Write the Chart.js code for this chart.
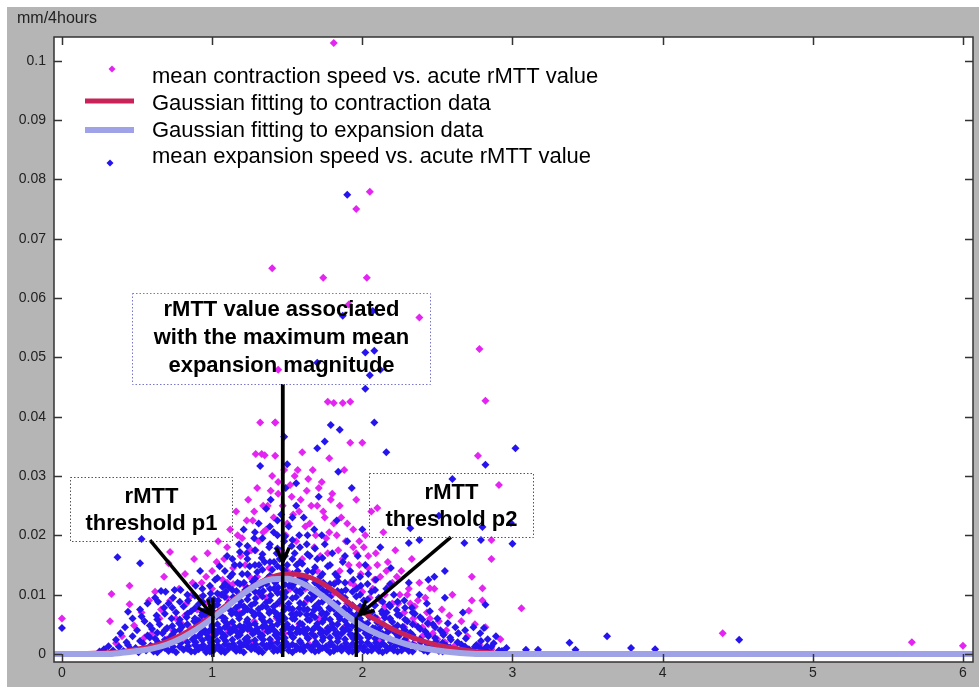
<!DOCTYPE html>
<html>
<head>
<meta charset="utf-8">
<script src="https://cdn.jsdelivr.net/npm/chart.js@4.4.1/dist/chart.umd.min.js"></script>
<style>
html,body{margin:0;padding:0;background:#fff;}
#wrap{position:relative;width:979px;height:687px;}
canvas{display:block;}
</style>
</head>
<body>
<div id="wrap"><canvas id="c" width="979" height="687"></canvas></div>
<script>
// ---------------- DATA ----------------
const yUnitLabel = 'mm/4hours';
const xTickValues = [0, 1, 2, 3, 4, 5, 6];
const xTickLabels = ['0', '1', '2', '3', '4', '5', '6'];
const yTickValues = [0, 0.01, 0.02, 0.03, 0.04, 0.05, 0.06, 0.07, 0.08, 0.09, 0.1];
const yTickLabels = ['0', '0.01', '0.02', '0.03', '0.04', '0.05', '0.06', '0.07', '0.08', '0.09', '0.1'];

const legendLabels = [
  'mean contraction speed vs. acute rMTT value',
  'Gaussian fitting to contraction data',
  'Gaussian fitting to expansion data',
  'mean expansion speed vs. acute rMTT value'
];

// mean contraction speed vs. acute rMTT value (magenta)
const contractionPoints = [
  [0.00,0.0060],[0.33,0.0101],[0.45,0.0115],[0.45,0.0084],[0.32,0.0055],[0.71,0.0153],[0.72,0.0172],
  [0.40,0.0030],[0.36,0.0018],[0.48,0.0048],[0.53,0.0070],[0.58,0.0090],[0.62,0.0105],[0.55,0.0028],
  [0.60,0.0012],[0.65,0.0060],[0.68,0.0130],[0.74,0.0040],[0.78,0.0110],[0.82,0.0135],[0.80,0.0022],
  [0.86,0.0098],[0.88,0.0160],[0.90,0.0057],[0.93,0.0120],[0.97,0.0170],[0.95,0.0010],[1.00,0.0140],
  [1.02,0.0088],[1.04,0.0190],[1.08,0.0160],[1.10,0.0035],[1.12,0.0210],[1.14,0.0118],[1.16,0.0240],
  [1.18,0.0070],[1.20,0.0195],[1.22,0.0150],[1.24,0.0260],[1.25,0.0040],[1.27,0.0225],[1.29,0.0175],
  [1.30,0.0280],[1.32,0.0100],[1.34,0.0205],[1.33,0.0337],[1.35,0.0335],[1.37,0.0250],[1.38,0.0145],
  [1.40,0.0300],[1.42,0.0334],[1.42,0.0390],[1.32,0.0390],[1.43,0.0060],[1.44,0.0270],[1.46,0.0175],
  [1.48,0.0310],[1.50,0.0220],[1.52,0.0110],[1.53,0.0265],[1.55,0.0300],[1.56,0.0190],[1.58,0.0240],
  [1.60,0.0340],[1.62,0.0130],[1.63,0.0275],[1.65,0.0220],[1.67,0.0310],[1.68,0.0180],[1.70,0.0250],
  [1.72,0.0100],[1.73,0.0290],[1.75,0.0230],[1.77,0.0170],[1.78,0.0330],[1.80,0.0270],[1.82,0.0120],
  [1.83,0.0200],[1.85,0.0250],[1.87,0.0160],[1.88,0.0310],[1.90,0.0220],[1.92,0.0120],[1.94,0.0180],
  [1.96,0.0260],[1.98,0.0150],[2.00,0.0105],[2.02,0.0200],[2.04,0.0165],[2.06,0.0240],[2.08,0.0125],
  [2.10,0.0150],[2.12,0.0090],[2.14,0.0205],[2.16,0.0140],[2.18,0.0060],[2.20,0.0120],[2.22,0.0175],
  [2.24,0.0085],[2.26,0.0140],[2.28,0.0045],[2.30,0.0100],[2.33,0.0160],[2.35,0.0080],[2.38,0.0120],
  [2.40,0.0030],[2.42,0.0095],[2.45,0.0060],[2.48,0.0110],[2.50,0.0025],[2.53,0.0075],[2.56,0.0040],
  [2.60,0.0100],[2.62,0.0015],[2.66,0.0055],[2.70,0.0030],[2.73,0.0090],[2.78,0.0015],[2.82,0.0045],
  [2.86,0.0008],[2.92,0.0025],
  [0.70,0.0025],[0.85,0.0045],[0.98,0.0035],[1.05,0.0065],[1.13,0.0050],[1.21,0.0080],[1.28,0.0055],
  [1.36,0.0095],[1.45,0.0085],[1.54,0.0070],[1.63,0.0090],[1.71,0.0060],[1.79,0.0085],[1.88,0.0045],
  [1.97,0.0065],[2.05,0.0035],[2.14,0.0050],[2.23,0.0025],[1.15,0.0010],[1.40,0.0020],[1.65,0.0015],
  [1.90,0.0010],[2.35,0.0015],[0.90,0.0075],[1.10,0.0095],[1.30,0.0130],[1.50,0.0140],[1.70,0.0140],
  [1.90,0.0085],[2.10,0.0060],
  [0.60,0.0035],[0.66,0.0075],[0.72,0.0090],[0.76,0.0060],[0.83,0.0085],[0.87,0.0120],[0.92,0.0095],
  [0.96,0.0130],[1.00,0.0110],[1.03,0.0155],[1.07,0.0125],[1.10,0.0180],[1.14,0.0145],[1.17,0.0200],
  [1.19,0.0165],[1.23,0.0225],[1.26,0.0175],[1.28,0.0240],[1.31,0.0190],[1.34,0.0250],[1.36,0.0210],
  [1.39,0.0275],[1.41,0.0230],[1.44,0.0290],[1.47,0.0250],[1.49,0.0200],[1.52,0.0285],[1.54,0.0235],
  [1.57,0.0310],[1.59,0.0260],[1.62,0.0215],[1.64,0.0295],[1.66,0.0250],[1.69,0.0200],[1.71,0.0280],
  [1.74,0.0240],[1.76,0.0195],[1.79,0.0260],[1.81,0.0220],[1.84,0.0175],[1.86,0.0230],[1.89,0.0190],
  [1.91,0.0150],[1.94,0.0210],[1.96,0.0170],[1.99,0.0135],[2.01,0.0180],[2.04,0.0145],[2.07,0.0110],
  [2.09,0.0170],[2.12,0.0130],[2.15,0.0100],[2.17,0.0155],[2.20,0.0085],[2.23,0.0130],[2.25,0.0100],
  [2.28,0.0070],[2.31,0.0110],[2.34,0.0060],[2.37,0.0090],[2.40,0.0045],[2.43,0.0070],[2.47,0.0035],
  [2.51,0.0055],[2.55,0.0020],[2.58,0.0065],[2.64,0.0035],[2.68,0.0012],[2.75,0.0050],
  [0.80,0.0050],[0.95,0.0060],[1.08,0.0030],[1.18,0.0045],[1.26,0.0020],[1.35,0.0040],[1.48,0.0035],
  [1.58,0.0050],[1.68,0.0030],[1.76,0.0040],[1.84,0.0065],[1.93,0.0030],[2.02,0.0050],[2.11,0.0025],
  [2.20,0.0040],[2.30,0.0020],[1.22,0.0115],[1.44,0.0105],[1.62,0.0110],[1.80,0.0100],[1.05,0.0100],
  [1.60,0.0160],[1.72,0.0165],[1.85,0.0140],[1.95,0.0115],[2.05,0.0095],[2.15,0.0080],[2.25,0.0065],
  [2.35,0.0050],[1.78,0.0205],[1.98,0.0190],[2.18,0.0115],[2.32,0.0085],[2.44,0.0050],[2.55,0.0035],
  [1.25,0.0130],[1.10,0.0120],[0.95,0.0085],[0.82,0.0065],
  [1.81,0.1030],[2.05,0.0779],[1.96,0.0750],[1.40,0.0650],[1.74,0.0634],[2.03,0.0634],[2.38,0.0567],
  [1.91,0.0589],[2.78,0.0514],[1.44,0.0479],[2.82,0.0427],[1.77,0.0425],[1.81,0.0423],[1.87,0.0423],
  [1.92,0.0425],[1.92,0.0356],[2.00,0.0356],[1.42,0.0390],[1.29,0.0337],[2.77,0.0334],[2.91,0.0285],
  [2.10,0.0246],[2.86,0.0192],[2.86,0.0160],[2.73,0.0130],[2.80,0.0111],[2.80,0.0090],[3.06,0.0077],
  [2.71,0.0073],[2.45,0.0111],[4.40,0.0035],[5.66,0.0020],[6.00,0.0014]
];

// mean expansion speed vs. acute rMTT value (blue)
const expansionPoints = [
  [0.41,0.0005],[0.38,0.0012],[0.43,0.0020],
  [0.46,0.0008],[0.47,0.0030],[0.44,0.0015],
  [0.51,0.0003],[0.49,0.0010],[0.52,0.0022],[0.50,0.0040],
  [0.56,0.0006],[0.54,0.0018],[0.57,0.0031],[0.55,0.0055],
  [0.61,0.0004],[0.59,0.0014],[0.62,0.0026],[0.60,0.0042],[0.63,0.0065],
  [0.66,0.0009],[0.64,0.0020],[0.67,0.0035],[0.65,0.0050],[0.68,0.0078],
  [0.71,0.0005],[0.69,0.0016],[0.72,0.0028],[0.70,0.0044],[0.73,0.0060],[0.71,0.0085],[0.69,0.0105],
  [0.76,0.0003],[0.74,0.0012],[0.77,0.0023],[0.75,0.0038],[0.78,0.0052],[0.76,0.0070],[0.74,0.0095],
  [0.81,0.0007],[0.79,0.0018],[0.82,0.0030],[0.80,0.0046],[0.83,0.0062],[0.81,0.0080],[0.79,0.0108],
  [0.86,0.0004],[0.84,0.0013],[0.87,0.0025],[0.85,0.0036],[0.88,0.0055],[0.86,0.0072],[0.84,0.0090],
  [0.91,0.0008],[0.89,0.0020],[0.92,0.0033],[0.90,0.0048],[0.93,0.0065],[0.91,0.0084],[0.89,0.0115],[0.92,0.0140],
  [0.96,0.0003],[0.94,0.0015],[0.97,0.0027],[0.95,0.0040],[0.98,0.0058],[0.96,0.0075],[0.94,0.0098],
  [1.01,0.0006],[0.99,0.0019],[1.02,0.0032],[1.00,0.0047],[1.03,0.0063],[1.01,0.0080],[0.99,0.0102],[1.02,0.0125],
  [1.06,0.0004],[1.04,0.0014],[1.07,0.0028],[1.05,0.0042],[1.08,0.0056],[1.06,0.0073],[1.04,0.0090],[1.07,0.0113],[1.05,0.0148],
  [1.11,0.0009],[1.09,0.0022],[1.12,0.0036],[1.10,0.0051],[1.13,0.0068],[1.11,0.0086],[1.09,0.0105],[1.12,0.0130],[1.10,0.0165],
  [1.16,0.0005],[1.14,0.0017],[1.17,0.0030],[1.15,0.0045],[1.18,0.0060],[1.16,0.0078],[1.14,0.0096],[1.17,0.0120],[1.15,0.0150],[1.18,0.0185],
  [1.21,0.0003],[1.19,0.0012],[1.22,0.0025],[1.20,0.0039],[1.23,0.0054],[1.21,0.0071],[1.19,0.0089],[1.22,0.0108],[1.20,0.0135],[1.23,0.0170],[1.21,0.0210],
  [1.26,0.0008],[1.24,0.0021],[1.27,0.0034],[1.25,0.0049],[1.28,0.0065],[1.26,0.0082],[1.24,0.0100],[1.27,0.0122],[1.25,0.0148],[1.28,0.0195],
  [1.31,0.0004],[1.29,0.0016],[1.32,0.0029],[1.30,0.0043],[1.33,0.0059],[1.31,0.0076],[1.29,0.0094],[1.32,0.0115],[1.30,0.0138],[1.33,0.0162],[1.31,0.0220],
  [1.36,0.0010],[1.34,0.0024],[1.37,0.0038],[1.35,0.0053],[1.38,0.0069],[1.36,0.0087],[1.34,0.0106],[1.37,0.0128],[1.35,0.0155],[1.38,0.0180],[1.36,0.0245],
  [1.41,0.0005],[1.39,0.0018],[1.42,0.0032],[1.40,0.0047],[1.43,0.0063],[1.41,0.0080],[1.39,0.0099],[1.42,0.0120],[1.40,0.0142],[1.43,0.0170],[1.41,0.0205],[1.39,0.0260],
  [1.46,0.0012],[1.44,0.0026],[1.47,0.0041],[1.45,0.0057],[1.48,0.0074],[1.46,0.0092],[1.44,0.0112],[1.47,0.0134],[1.45,0.0160],[1.48,0.0190],[1.46,0.0235],
  [1.51,0.0006],[1.49,0.0020],[1.52,0.0035],[1.50,0.0050],[1.53,0.0067],[1.51,0.0085],[1.49,0.0104],[1.52,0.0126],[1.50,0.0150],[1.53,0.0182],[1.51,0.0215],[1.49,0.0280],
  [1.56,0.0013],[1.54,0.0028],[1.57,0.0043],[1.55,0.0059],[1.58,0.0077],[1.56,0.0096],[1.54,0.0117],[1.57,0.0140],[1.55,0.0170],[1.58,0.0200],[1.56,0.0250],
  [1.61,0.0005],[1.59,0.0019],[1.62,0.0034],[1.60,0.0050],[1.63,0.0066],[1.61,0.0084],[1.59,0.0103],[1.62,0.0125],[1.60,0.0152],[1.63,0.0185],[1.61,0.0230],
  [1.66,0.0011],[1.64,0.0026],[1.67,0.0041],[1.65,0.0057],[1.68,0.0074],[1.66,0.0092],[1.64,0.0113],[1.67,0.0138],[1.65,0.0165],[1.68,0.0210],
  [1.71,0.0006],[1.69,0.0020],[1.72,0.0035],[1.70,0.0051],[1.73,0.0068],[1.71,0.0086],[1.69,0.0106],[1.72,0.0130],[1.70,0.0160],[1.73,0.0200],[1.71,0.0265],
  [1.76,0.0013],[1.74,0.0028],[1.77,0.0044],[1.75,0.0060],[1.78,0.0078],[1.76,0.0098],[1.74,0.0120],[1.77,0.0148],[1.75,0.0185],
  [1.81,0.0005],[1.79,0.0019],[1.82,0.0034],[1.80,0.0050],[1.83,0.0067],[1.81,0.0086],[1.79,0.0108],[1.82,0.0135],[1.80,0.0170],[1.83,0.0225],
  [1.86,0.0012],[1.84,0.0027],[1.87,0.0042],[1.85,0.0059],[1.88,0.0077],[1.86,0.0098],[1.84,0.0122],[1.87,0.0155],
  [1.91,0.0004],[1.89,0.0018],[1.92,0.0033],[1.90,0.0049],[1.93,0.0066],[1.91,0.0085],[1.89,0.0108],[1.92,0.0140],[1.90,0.0190],
  [1.96,0.0011],[1.94,0.0026],[1.97,0.0041],[1.95,0.0058],[1.98,0.0076],[1.96,0.0097],[1.94,0.0125],[1.97,0.0165],
  [2.01,0.0006],[1.99,0.0020],[2.02,0.0035],[2.00,0.0052],[2.03,0.0070],[2.01,0.0090],[1.99,0.0115],[2.02,0.0150],[2.00,0.0210],
  [2.06,0.0013],[2.04,0.0028],[2.07,0.0044],[2.05,0.0062],[2.08,0.0082],[2.06,0.0105],[2.04,0.0135],
  [2.11,0.0005],[2.09,0.0019],[2.12,0.0035],[2.10,0.0053],[2.13,0.0072],[2.11,0.0095],[2.09,0.0125],[2.12,0.0180],
  [2.16,0.0012],[2.14,0.0027],[2.17,0.0043],[2.15,0.0061],[2.18,0.0083],[2.16,0.0110],
  [2.21,0.0006],[2.19,0.0020],[2.22,0.0036],[2.20,0.0054],[2.23,0.0074],[2.21,0.0100],[2.19,0.0145],
  [2.26,0.0013],[2.24,0.0029],[2.27,0.0046],[2.25,0.0065],[2.28,0.0090],
  [2.31,0.0005],[2.29,0.0019],[2.32,0.0036],[2.30,0.0055],[2.33,0.0078],[2.31,0.0120],
  [2.36,0.0012],[2.34,0.0028],[2.37,0.0046],[2.35,0.0068],[2.38,0.0100],
  [2.41,0.0006],[2.39,0.0020],[2.42,0.0038],[2.40,0.0058],[2.43,0.0085],
  [2.46,0.0013],[2.44,0.0030],[2.47,0.0050],[2.45,0.0072],[2.48,0.0130],
  [2.51,0.0005],[2.49,0.0021],[2.52,0.0040],[2.50,0.0060],
  [2.56,0.0014],[2.54,0.0032],[2.57,0.0052],[2.55,0.0095],
  [2.61,0.0007],[2.59,0.0024],[2.62,0.0045],
  [2.66,0.0016],[2.64,0.0035],[2.67,0.0070],
  [2.71,0.0008],[2.69,0.0026],
  [2.76,0.0015],[2.74,0.0045],
  [2.81,0.0007],[2.79,0.0022],
  [2.86,0.0012],
  [2.91,0.0006],[2.89,0.0030],
  [2.96,0.0010],
  [0.585,0.0010],[0.585,0.0028],[0.585,0.0048],
  [0.635,0.0003],[0.635,0.0016],[0.635,0.0036],[0.635,0.0058],
  [0.685,0.0010],[0.685,0.0024],[0.685,0.0040],[0.685,0.0068],
  [0.735,0.0007],[0.735,0.0019],[0.735,0.0033],[0.735,0.0047],[0.735,0.0078],
  [0.785,0.0012],[0.785,0.0026],[0.785,0.0041],[0.785,0.0058],[0.785,0.0088],
  [0.835,0.0009],[0.835,0.0020],[0.835,0.0034],[0.835,0.0050],[0.835,0.0068],[0.835,0.0100],
  [0.885,0.0004],[0.885,0.0015],[0.885,0.0028],[0.885,0.0042],[0.885,0.0060],[0.885,0.0077],[0.885,0.0098],
  [0.935,0.0010],[0.935,0.0023],[0.935,0.0037],[0.935,0.0052],[0.935,0.0070],[0.935,0.0088],[0.935,0.0110],
  [0.985,0.0004],[0.985,0.0013],[0.985,0.0026],[0.985,0.0040],[0.985,0.0055],[0.985,0.0072],[0.985,0.0092],[0.985,0.0115],
  [1.035,0.0010],[1.035,0.0022],[1.035,0.0037],[1.035,0.0050],[1.035,0.0066],[1.035,0.0083],[1.035,0.0102],[1.035,0.0128],
  [1.085,0.0003],[1.085,0.0016],[1.085,0.0030],[1.085,0.0045],[1.085,0.0060],[1.085,0.0077],[1.085,0.0096],[1.085,0.0118],[1.085,0.0140],
  [1.135,0.0011],[1.135,0.0024],[1.135,0.0039],[1.135,0.0054],[1.135,0.0071],[1.135,0.0088],[1.135,0.0108],[1.135,0.0135],[1.135,0.0160],
  [1.185,0.0006],[1.185,0.0019],[1.185,0.0032],[1.185,0.0047],[1.185,0.0066],[1.185,0.0082],[1.185,0.0099],[1.185,0.0118],[1.185,0.0150],[1.185,0.0172],
  [1.235,0.0013],[1.235,0.0028],[1.235,0.0042],[1.235,0.0058],[1.235,0.0075],[1.235,0.0092],[1.235,0.0111],[1.235,0.0135],[1.235,0.0160],[1.235,0.0182],
  [1.285,0.0009],[1.285,0.0023],[1.285,0.0037],[1.285,0.0051],[1.285,0.0068],[1.285,0.0086],[1.285,0.0105],[1.285,0.0127],[1.285,0.0150],[1.285,0.0175],[1.285,0.0205],
  [1.335,0.0003],[1.335,0.0017],[1.335,0.0031],[1.335,0.0046],[1.335,0.0062],[1.335,0.0080],[1.335,0.0097],[1.335,0.0118],[1.335,0.0142],[1.335,0.0168],[1.335,0.0195],
  [1.385,0.0012],[1.385,0.0025],[1.385,0.0040],[1.385,0.0055],[1.385,0.0072],[1.385,0.0090],[1.385,0.0110],[1.385,0.0132],[1.385,0.0155],[1.385,0.0185],[1.385,0.0215],
  [1.435,0.0006],[1.435,0.0019],[1.435,0.0034],[1.435,0.0050],[1.435,0.0067],[1.435,0.0085],[1.435,0.0103],[1.435,0.0125],[1.435,0.0148],[1.435,0.0178],[1.435,0.0200],[1.435,0.0225],
  [1.485,0.0013],[1.485,0.0027],[1.485,0.0043],[1.485,0.0060],[1.485,0.0078],[1.485,0.0096],[1.485,0.0117],[1.485,0.0140],[1.485,0.0165],[1.485,0.0198],
  [1.535,0.0003],[1.535,0.0016],[1.535,0.0029],[1.535,0.0044],[1.535,0.0060],[1.535,0.0076],[1.535,0.0094],[1.535,0.0113],[1.535,0.0135],[1.535,0.0160],[1.535,0.0192],[1.535,0.0230],
  [1.585,0.0008],[1.585,0.0022],[1.585,0.0037],[1.585,0.0052],[1.585,0.0068],[1.585,0.0086],[1.585,0.0106],[1.585,0.0128],[1.585,0.0155],[1.585,0.0180],
  [1.635,0.0014],[1.635,0.0027],[1.635,0.0042],[1.635,0.0058],[1.635,0.0075],[1.635,0.0094],[1.635,0.0115],[1.635,0.0140],[1.635,0.0168],[1.635,0.0200],
  [1.685,0.0004],[1.685,0.0016],[1.685,0.0030],[1.685,0.0045],[1.685,0.0062],[1.685,0.0080],[1.685,0.0098],[1.685,0.0120],[1.685,0.0146],[1.685,0.0178],
  [1.735,0.0010],[1.735,0.0023],[1.735,0.0038],[1.735,0.0054],[1.735,0.0070],[1.735,0.0088],[1.735,0.0108],[1.735,0.0135],[1.735,0.0162],
  [1.785,0.0003],[1.785,0.0015],[1.785,0.0028],[1.785,0.0042],[1.785,0.0058],[1.785,0.0076],[1.785,0.0096],[1.785,0.0118],[1.785,0.0150],
  [1.835,0.0009],[1.835,0.0021],[1.835,0.0035],[1.835,0.0050],[1.835,0.0066],[1.835,0.0085],[1.835,0.0106],[1.835,0.0130],
  [1.885,0.0011],[1.885,0.0025],[1.885,0.0040],[1.885,0.0056],[1.885,0.0074],[1.885,0.0095],[1.885,0.0120],[1.885,0.0165],
  [1.935,0.0004],[1.935,0.0017],[1.935,0.0031],[1.935,0.0047],[1.935,0.0064],[1.935,0.0082],[1.935,0.0105],
  [1.985,0.0012],[1.985,0.0027],[1.985,0.0043],[1.985,0.0060],[1.985,0.0080],[1.985,0.0100],[1.985,0.0130],
  [2.035,0.0005],[2.035,0.0019],[2.035,0.0035],[2.035,0.0052],[2.035,0.0072],[2.035,0.0092],[2.035,0.0118],
  [2.085,0.0011],[2.085,0.0026],[2.085,0.0043],[2.085,0.0062],[2.085,0.0082],[2.085,0.0108],
  [2.135,0.0003],[2.135,0.0018],[2.135,0.0034],[2.135,0.0050],[2.135,0.0068],[2.135,0.0088],
  [2.185,0.0010],[2.185,0.0025],[2.185,0.0041],[2.185,0.0060],[2.185,0.0080],[2.185,0.0118],
  [2.235,0.0004],[2.235,0.0017],[2.235,0.0032],[2.235,0.0048],[2.235,0.0066],[2.235,0.0088],
  [2.285,0.0010],[2.285,0.0025],[2.285,0.0040],[2.285,0.0058],[2.285,0.0078],
  [2.335,0.0004],[2.335,0.0016],[2.335,0.0032],[2.335,0.0050],[2.335,0.0070],
  [2.385,0.0010],[2.385,0.0025],[2.385,0.0042],[2.385,0.0062],
  [2.435,0.0004],[2.435,0.0016],[2.435,0.0033],[2.435,0.0052],
  [2.485,0.0010],[2.485,0.0027],[2.485,0.0045],
  [2.535,0.0004],[2.535,0.0019],[2.535,0.0036],
  [2.585,0.0011],[2.585,0.0028],
  [2.635,0.0005],[2.635,0.0020],
  [2.685,0.0012],[2.685,0.0040],
  [2.735,0.0006],
  [2.785,0.0010],[2.785,0.0035],
  [2.835,0.0004],[2.835,0.0025],
  [2.875,0.0018],
  [0.912,0.0011],[0.912,0.0030],[0.912,0.0056],
  [0.962,0.0008],[0.962,0.0034],[0.962,0.0064],
  [1.012,0.0012],[1.012,0.0040],[1.012,0.0070],[1.012,0.0092],
  [1.062,0.0009],[1.062,0.0036],[1.062,0.0064],[1.062,0.0100],
  [1.112,0.0014],[1.112,0.0043],[1.112,0.0076],[1.112,0.0112],
  [1.162,0.0010],[1.162,0.0038],[1.162,0.0068],[1.162,0.0106],
  [1.212,0.0016],[1.212,0.0046],[1.212,0.0080],[1.212,0.0120],
  [1.262,0.0012],[1.262,0.0040],[1.262,0.0072],[1.262,0.0112],
  [1.312,0.0009],[1.312,0.0036],[1.312,0.0068],[1.312,0.0104],[1.312,0.0150],
  [1.362,0.0014],[1.362,0.0045],[1.362,0.0079],[1.362,0.0118],
  [1.412,0.0011],[1.412,0.0040],[1.412,0.0072],[1.412,0.0110],[1.412,0.0155],
  [1.462,0.0006],[1.462,0.0034],[1.462,0.0066],[1.462,0.0102],[1.462,0.0145],
  [1.512,0.0013],[1.512,0.0043],[1.512,0.0077],[1.512,0.0115],
  [1.562,0.0008],[1.562,0.0036],[1.562,0.0068],[1.562,0.0106],[1.562,0.0150],
  [1.612,0.0012],[1.612,0.0042],[1.612,0.0075],[1.612,0.0113],
  [1.662,0.0007],[1.662,0.0034],[1.662,0.0066],[1.662,0.0103],
  [1.712,0.0013],[1.712,0.0043],[1.712,0.0077],[1.712,0.0115],
  [1.762,0.0008],[1.762,0.0036],[1.762,0.0068],[1.762,0.0105],
  [1.812,0.0012],[1.812,0.0042],[1.812,0.0076],[1.812,0.0118],
  [1.862,0.0006],[1.862,0.0034],[1.862,0.0066],[1.862,0.0105],
  [1.912,0.0011],[1.912,0.0040],[1.912,0.0074],
  [1.962,0.0005],[1.962,0.0033],[1.962,0.0066],[1.962,0.0110],
  [2.012,0.0012],[2.012,0.0042],[2.012,0.0080],
  [2.062,0.0006],[2.062,0.0035],[2.062,0.0070],
  [2.112,0.0012],[2.112,0.0043],
  [2.162,0.0006],[2.162,0.0035],[2.162,0.0070],
  [2.212,0.0012],[2.212,0.0044],
  [2.262,0.0006],[2.262,0.0036],
  [0.25,0.0004],[0.28,0.0008],[0.31,0.0013],[0.34,0.0006],[0.36,0.0024],[0.39,0.0035],[0.42,0.0045],
  [0.47,0.0060],[0.52,0.0075],[0.57,0.0085],[0.62,0.0095],[0.66,0.0106],[0.64,0.0088],
  [0.00,0.0044],[0.37,0.0163],[0.53,0.0194],[0.52,0.0153],[0.75,0.0108],[0.44,0.0071],[0.53,0.0063],
  [1.90,0.0774],[1.87,0.0570],[2.07,0.0578],[2.02,0.0508],[2.08,0.0511],[2.12,0.0479],[2.05,0.0470],
  [2.02,0.0447],[1.70,0.0491],[1.48,0.0366],[1.79,0.0386],[1.85,0.0378],[2.08,0.0390],[1.70,0.0347],
  [1.75,0.0358],[2.16,0.0340],[1.32,0.0317],[1.50,0.0320],[1.56,0.0288],[1.84,0.0307],[1.93,0.0280],
  [3.02,0.0347],[2.82,0.0319],[2.60,0.0295],[2.99,0.0221],[2.80,0.0214],[2.51,0.0233],[2.68,0.0187],
  [2.38,0.0192],[2.32,0.0212],[2.31,0.0187],[2.79,0.0192],[3.00,0.0186],[2.55,0.0140],[2.44,0.0125],
  [2.82,0.0083],[2.81,0.0044],[2.83,0.0013],[2.75,0.0012],
  [3.09,0.0007],[3.17,0.0007],[3.38,0.0019],[3.42,0.0007],[3.63,0.0030],[3.79,0.0010],[3.95,0.0008],
  [4.51,0.0024],[2.93,0.0005]
];

// Gaussian fitting curves
const contractionFitX = [0.17,0.3,0.4,0.5,0.6,0.7,0.8,0.9,1.0,1.1,1.2,1.3,1.4,1.5,1.6,1.7,1.8,1.9,2.0,2.1,2.2,2.3,2.4,2.5,2.6,2.7,2.8,2.9];
const contractionFitY = [0.0001,0.0002,0.0004,0.0008,0.0013,0.0021,0.0033,0.0047,0.0064,0.0083,0.0102,0.0118,0.0130,0.0135,0.0133,0.0124,0.0108,0.0088,0.0071,0.0056,0.0042,0.0031,0.0022,0.0015,0.0010,0.0006,0.0003,0.0001];
const expansionFitX = [-0.06,0.3,0.4,0.5,0.6,0.7,0.8,0.9,1.0,1.1,1.2,1.3,1.4,1.5,1.6,1.7,1.8,1.9,2.0,2.1,2.2,2.3,2.4,2.5,2.6,2.7,2.8,6.1];
const expansionFitY = [0,0,0.0002,0.0005,0.0009,0.0016,0.0027,0.0042,0.0060,0.0080,0.0100,0.0117,0.0126,0.0127,0.0119,0.0104,0.0085,0.0064,0.0047,0.0034,0.0024,0.0016,0.0010,0.0006,0.0003,0.0001,0,0];

// ---------------- ANNOTATIONS (in data units) ----------------
const annotations = {
  boxes: [
    {x0:0.053, x1:1.132, y0:0.0299, y1:0.0191, color:'#555', lines:['rMTT','threshold p1'], lineY:[0.0264,0.0220]},
    {x0:2.044, x1:3.136, y0:0.0305, y1:0.0197, color:'#555', lines:['rMTT','threshold p2'], lineY:[0.0271,0.0226]},
    {x0:0.466, x1:2.450, y0:0.0609, y1:0.0455, color:'#7777cc', lines:['rMTT value associated','with the maximum mean','expansion magnitude'], lineY:[0.0580,0.0532,0.0486]}
  ],
  verticals: [
    {x:1.005, y0:-0.0005, y1:0.0094},
    {x:1.47, y0:-0.0005, y1:0.0455},
    {x:1.96, y0:-0.0005, y1:0.0062}
  ],
  arrows: [
    {x0:0.586, y0:0.0192, x1:1.00, y1:0.0066},
    {x0:1.47, y0:0.0455, x1:1.47, y1:0.0155},
    {x0:2.59, y0:0.0197, x1:1.98, y1:0.0066}
  ]
};

const MAGENTA = 'rgb(228,36,242)';
const BLUE = 'rgb(38,20,238)';
const RED = 'rgb(200,34,88)';
const LIGHTBLUE = 'rgb(160,162,232)';
const FONT = '"Liberation Sans", Arial, Helvetica, sans-serif';

const toXY = arr => arr.map(p => ({x:p[0], y:p[1]}));
const zipXY = (xs, ys) => xs.map((x,i) => ({x, y:ys[i]}));

const framePlugin = {
  id: 'frame',
  beforeDraw(chart) {
    const {ctx, width, height, chartArea:a} = chart;
    ctx.save();
    ctx.fillStyle = '#fff';
    ctx.fillRect(0,0,width,height);
    ctx.fillStyle = '#b5b5b5';
    ctx.fillRect(7,7,width-7,height-7);
    ctx.fillStyle = '#fff';
    ctx.fillRect(a.left,a.top,a.right-a.left,a.bottom-a.top);
    ctx.fillStyle = '#222';
    ctx.font = '16px ' + FONT;
    ctx.textBaseline = 'middle';
    ctx.textAlign = 'left';
    ctx.fillText(yUnitLabel, 17, 19);
    ctx.restore();
  },
  afterDraw(chart) {
    const {ctx, chartArea:a, scales} = chart;
    ctx.save();
    ctx.strokeStyle = '#333';
    ctx.lineWidth = 1.5;
    ctx.strokeRect(a.left, a.top, a.right-a.left, a.bottom-a.top);
    ctx.beginPath();
    scales.x.ticks.forEach(t => {
      const px = Math.round(scales.x.getPixelForValue(t.value)) + 0.5;
      ctx.moveTo(px, a.bottom); ctx.lineTo(px, a.bottom - 8);
      ctx.moveTo(px, a.top); ctx.lineTo(px, a.top + 8);
    });
    scales.y.ticks.forEach(t => {
      const py = Math.round(scales.y.getPixelForValue(t.value)) + 0.5;
      ctx.moveTo(a.left, py); ctx.lineTo(a.left + 8, py);
      ctx.moveTo(a.right, py); ctx.lineTo(a.right - 8, py);
    });
    ctx.stroke();

    // legend
    const lx = a.left, ly = a.top;
    ctx.font = '22px ' + FONT;
    ctx.fillStyle = '#000';
    ctx.textBaseline = 'middle';
    ctx.textAlign = 'left';
    const rowY = [40, 67, 94, 120];
    legendLabels.forEach((s,i) => ctx.fillText(s, lx + 98, ly + rowY[i]));
    const diamond = (cx, cy, r, col) => {
      ctx.fillStyle = col;
      ctx.beginPath();
      ctx.moveTo(cx, cy - r); ctx.lineTo(cx + r, cy); ctx.lineTo(cx, cy + r); ctx.lineTo(cx - r, cy);
      ctx.closePath(); ctx.fill();
    };
    diamond(lx + 58, ly + 32, 3.5, MAGENTA);
    diamond(lx + 56, ly + 126, 3.5, BLUE);
    ctx.lineCap = 'butt';
    ctx.strokeStyle = RED; ctx.lineWidth = 5;
    ctx.beginPath(); ctx.moveTo(lx + 31, ly + 64); ctx.lineTo(lx + 80, ly + 64); ctx.stroke();
    ctx.strokeStyle = LIGHTBLUE; ctx.lineWidth = 6;
    ctx.beginPath(); ctx.moveTo(lx + 31, ly + 93); ctx.lineTo(lx + 80, ly + 93); ctx.stroke();
    ctx.restore();
  }
};

const annotationPlugin = {
  id: 'notes',
  afterDatasetsDraw(chart) {
    const {ctx, scales} = chart;
    const X = v => scales.x.getPixelForValue(v);
    const Y = v => scales.y.getPixelForValue(v);
    ctx.save();
    ctx.strokeStyle = '#000';
    ctx.lineWidth = 3.5;
    ctx.lineCap = 'butt';
    annotations.verticals.forEach(v => {
      ctx.beginPath(); ctx.moveTo(X(v.x), Y(v.y0)); ctx.lineTo(X(v.x), Y(v.y1)); ctx.stroke();
    });
    annotations.arrows.forEach(ar => {
      const x0 = X(ar.x0), y0 = Y(ar.y0), x1 = X(ar.x1), y1 = Y(ar.y1);
      ctx.lineWidth = 3.5;
      ctx.beginPath(); ctx.moveTo(x0, y0); ctx.lineTo(x1, y1); ctx.stroke();
      const ang = Math.atan2(y1 - y0, x1 - x0);
      const L = 16, w = 0.42;
      ctx.lineJoin = 'miter';
      ctx.beginPath();
      ctx.moveTo(x1 - L*Math.cos(ang - w), y1 - L*Math.sin(ang - w));
      ctx.lineTo(x1, y1);
      ctx.lineTo(x1 - L*Math.cos(ang + w), y1 - L*Math.sin(ang + w));
      ctx.stroke();
    });
    annotations.boxes.forEach(b => {
      const x0 = Math.round(X(b.x0)) + 0.5, x1 = Math.round(X(b.x1)) + 0.5;
      const y0 = Math.round(Y(b.y0)) + 0.5, y1 = Math.round(Y(b.y1)) + 0.5;
      ctx.setLineDash([1.5, 2]);
      ctx.lineWidth = 1;
      ctx.strokeStyle = b.color;
      ctx.strokeRect(x0, y0, x1 - x0, y1 - y0);
      ctx.setLineDash([]);
      ctx.fillStyle = '#000';
      ctx.font = 'bold 22px ' + FONT;
      ctx.textAlign = 'center';
      ctx.textBaseline = 'middle';
      b.lines.forEach((s,i) => ctx.fillText(s, (x0 + x1)/2, Y(b.lineY[i])));
    });
    ctx.restore();
  }
};

new Chart(document.getElementById('c'), {
  data: {
    datasets: [
      {type:'scatter', label:legendLabels[0], data:toXY(contractionPoints), pointStyle:'rectRot', pointRadius:4, pointBorderWidth:0, backgroundColor:MAGENTA, borderColor:MAGENTA, order:4},
      {type:'scatter', label:legendLabels[3], data:toXY(expansionPoints), pointStyle:'rectRot', pointRadius:4, pointBorderWidth:0, backgroundColor:BLUE, borderColor:BLUE, order:3},
      {type:'line', label:legendLabels[1], data:zipXY(contractionFitX, contractionFitY), borderColor:RED, borderWidth:5, pointRadius:0, cubicInterpolationMode:'monotone', fill:false, clip:0, order:2},
      {type:'line', label:legendLabels[2], data:zipXY(expansionFitX, expansionFitY), borderColor:LIGHTBLUE, borderWidth:6, pointRadius:0, cubicInterpolationMode:'monotone', fill:false, clip:0, order:1}
    ]
  },
  options: {
    responsive: false,
    animation: false,
    devicePixelRatio: 1,
    layout: {padding: {top:37, right:6, left:0, bottom:0}},
    plugins: {legend:{display:false}, tooltip:{enabled:false}},
    events: [],
    scales: {
      x: {
        type:'linear', min:-0.053, max:6.067,
        grid:{display:false, drawTicks:false}, border:{display:false},
        afterBuildTicks: s => { s.ticks = xTickValues.map(v => ({value:v})); },
        afterFit: s => { s.height = 25; },
        ticks:{color:'#222', font:{size:14, family:FONT}, padding:3, maxRotation:0, autoSkip:false,
          callback:(v) => { const i = xTickValues.indexOf(v); return i >= 0 ? xTickLabels[i] : ''; }}
      },
      y: {
        type:'linear', min:-0.00135, max:0.104,
        grid:{display:false, drawTicks:false}, border:{display:false},
        afterBuildTicks: s => { s.ticks = yTickValues.map(v => ({value:v})); },
        afterFit: s => { s.width = 54; },
        ticks:{color:'#222', font:{size:14, family:FONT}, padding:8, autoSkip:false,
          callback:(v) => { const i = yTickValues.findIndex(t => Math.abs(t - v) < 1e-9); return i >= 0 ? yTickLabels[i] : ''; }}
      }
    }
  },
  plugins: [framePlugin, annotationPlugin]
});
</script>
</body>
</html>
